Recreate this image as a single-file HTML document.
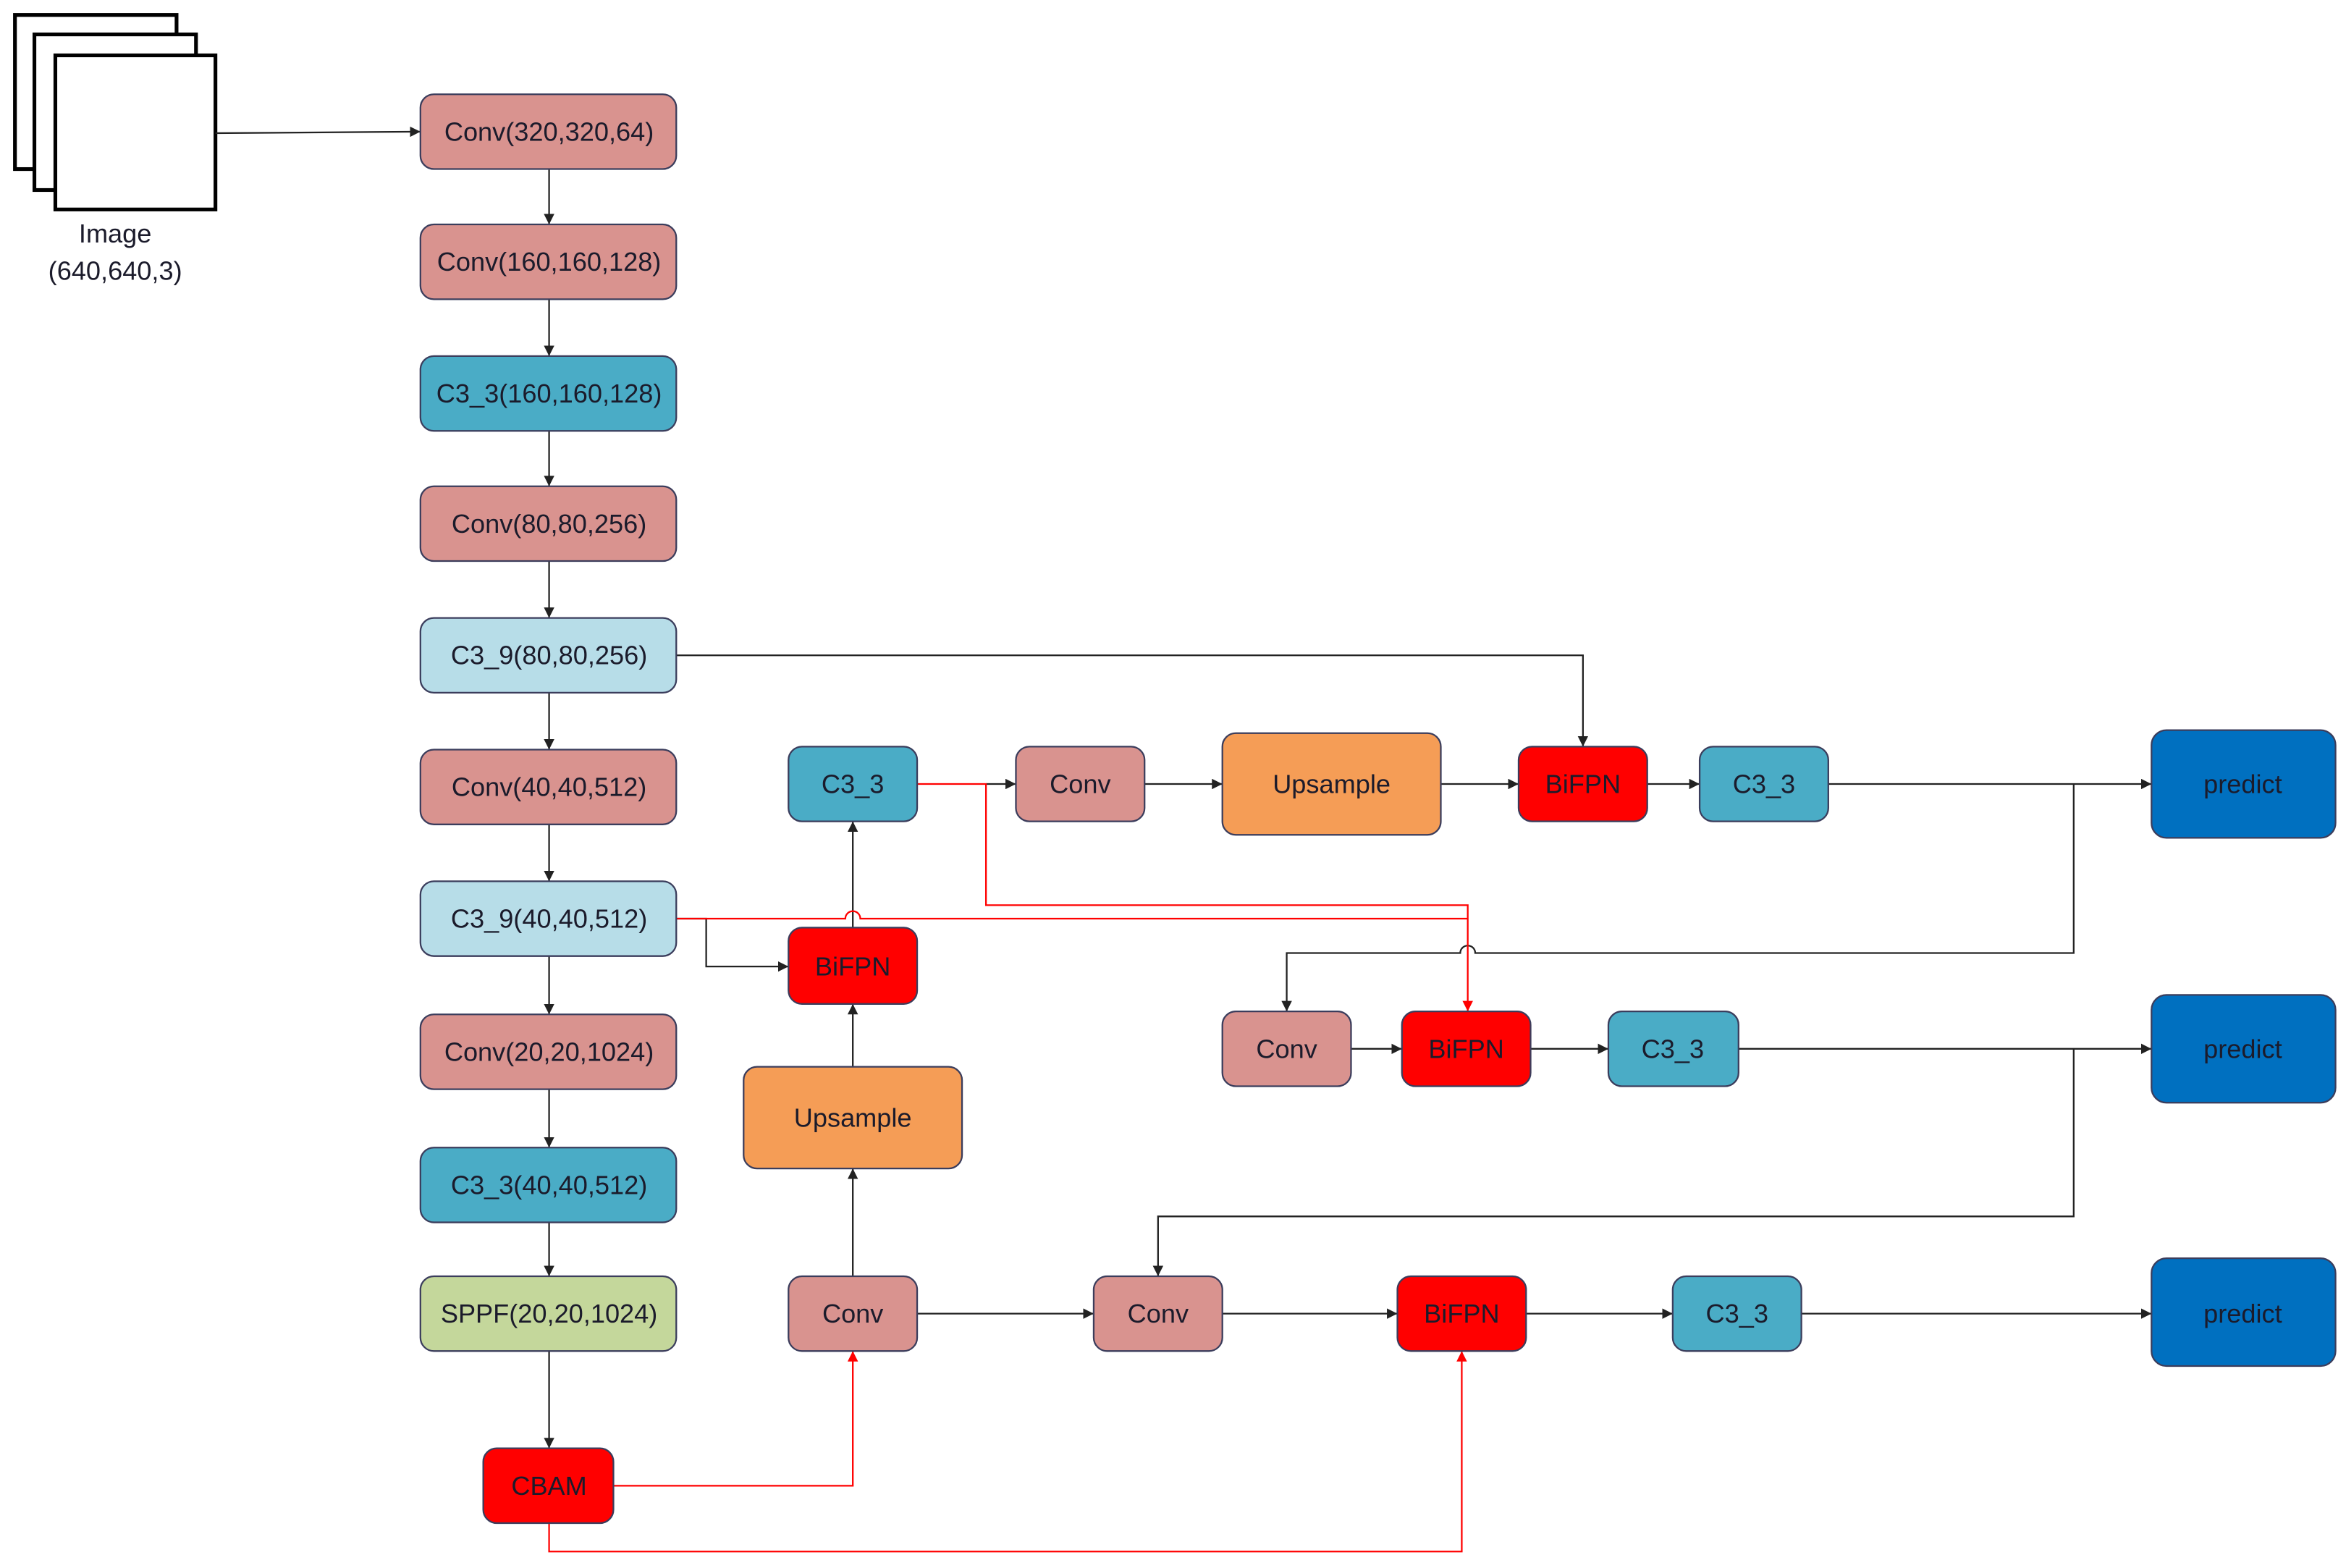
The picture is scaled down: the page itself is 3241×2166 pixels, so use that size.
<!DOCTYPE html>
<html><head><meta charset="utf-8"><style>
html,body{margin:0;padding:0;background:#fff;}
svg{display:block;}
text{font-family:"Liberation Sans","DejaVu Sans",sans-serif;font-size:17.5px;fill:#1b1b2b;text-anchor:middle;dominant-baseline:central;}
.b{stroke:#3b3d5c;stroke-width:1.1;}
.l{stroke:#222;stroke-width:1.1;fill:none;}
.r{stroke:#f00;stroke-width:1.1;fill:none;}
</style></head><body>
<svg width="3241" height="2166" viewBox="0 0 1568 1048" preserveAspectRatio="none" xmlns="http://www.w3.org/2000/svg">
<defs>
<marker id="a" viewBox="0 0 10 10" refX="10" refY="5" markerWidth="7" markerHeight="7" orient="auto" markerUnits="userSpaceOnUse"><path d="M0,0L10,5L0,10z" fill="#222"/></marker>
<marker id="ar" viewBox="0 0 10 10" refX="10" refY="5" markerWidth="7" markerHeight="7" orient="auto" markerUnits="userSpaceOnUse"><path d="M0,0L10,5L0,10z" fill="#f00"/></marker>
</defs>
<!-- image stack -->
<rect x="10" y="10" width="108" height="103" fill="#fff" stroke="#000" stroke-width="2.5"/>
<rect x="23" y="23" width="108" height="104" fill="#fff" stroke="#000" stroke-width="2.5"/>
<rect x="37" y="37" width="107" height="103" fill="#fff" stroke="#000" stroke-width="2.5"/>
<text x="77" y="156">Image</text>
<text x="77" y="181">(640,640,3)</text>

<!-- connectors black -->
<line class="l" x1="144" y1="89" x2="281" y2="88" marker-end="url(#a)"/>
<line class="l" x1="367" y1="113" x2="367" y2="150" marker-end="url(#a)"/>
<line class="l" x1="367" y1="200" x2="367" y2="238" marker-end="url(#a)"/>
<line class="l" x1="367" y1="288" x2="367" y2="325" marker-end="url(#a)"/>
<line class="l" x1="367" y1="375" x2="367" y2="413" marker-end="url(#a)"/>
<line class="l" x1="367" y1="463" x2="367" y2="501" marker-end="url(#a)"/>
<line class="l" x1="367" y1="551" x2="367" y2="589" marker-end="url(#a)"/>
<line class="l" x1="367" y1="639" x2="367" y2="678" marker-end="url(#a)"/>
<line class="l" x1="367" y1="728" x2="367" y2="767" marker-end="url(#a)"/>
<line class="l" x1="367" y1="817" x2="367" y2="853" marker-end="url(#a)"/>
<line class="l" x1="367" y1="903" x2="367" y2="968" marker-end="url(#a)"/>
<path class="l" d="M452,438H1058V499" marker-end="url(#a)"/>
<path class="l" d="M452,614H472V646H527" marker-end="url(#a)"/>
<line class="l" x1="570" y1="620" x2="570" y2="549" marker-end="url(#a)"/>
<line class="l" x1="570" y1="713" x2="570" y2="671" marker-end="url(#a)"/>
<line class="l" x1="570" y1="853" x2="570" y2="781" marker-end="url(#a)"/>
<line class="l" x1="659" y1="524" x2="679" y2="524" marker-end="url(#a)"/>
<line class="l" x1="765" y1="524" x2="817" y2="524" marker-end="url(#a)"/>
<line class="l" x1="963" y1="524" x2="1015" y2="524" marker-end="url(#a)"/>
<line class="l" x1="1101" y1="524" x2="1136" y2="524" marker-end="url(#a)"/>
<line class="l" x1="1222" y1="524" x2="1438" y2="524" marker-end="url(#a)"/>
<path class="l" d="M1386,524V637H986A5,5 0 0 0 976,637H860V676" marker-end="url(#a)"/>
<line class="l" x1="903" y1="701" x2="937" y2="701" marker-end="url(#a)"/>
<line class="l" x1="1023" y1="701" x2="1075" y2="701" marker-end="url(#a)"/>
<line class="l" x1="1162" y1="701" x2="1438" y2="701" marker-end="url(#a)"/>
<path class="l" d="M1386,701V813H774V853" marker-end="url(#a)"/>
<line class="l" x1="613" y1="878" x2="731" y2="878" marker-end="url(#a)"/>
<line class="l" x1="817" y1="878" x2="934" y2="878" marker-end="url(#a)"/>
<line class="l" x1="1020" y1="878" x2="1118" y2="878" marker-end="url(#a)"/>
<line class="l" x1="1204" y1="878" x2="1438" y2="878" marker-end="url(#a)"/>

<!-- red connectors -->
<path class="r" d="M613,524H659V605H981V676" marker-end="url(#ar)"/>
<path class="r" d="M452,614H565A5,5 0 0 1 575,614H981"/>
<path class="r" d="M410,993H570V903" marker-end="url(#ar)"/>
<path class="r" d="M367,1018V1037H977V903" marker-end="url(#ar)"/>

<!-- left column -->
<g class="b">
<rect x="281" y="63" width="171" height="50" rx="9" fill="#d9938f"/>
<rect x="281" y="150" width="171" height="50" rx="9" fill="#d9938f"/>
<rect x="281" y="238" width="171" height="50" rx="9" fill="#4aacc6"/>
<rect x="281" y="325" width="171" height="50" rx="9" fill="#d9938f"/>
<rect x="281" y="413" width="171" height="50" rx="9" fill="#b7dde8"/>
<rect x="281" y="501" width="171" height="50" rx="9" fill="#d9938f"/>
<rect x="281" y="589" width="171" height="50" rx="9" fill="#b7dde8"/>
<rect x="281" y="678" width="171" height="50" rx="9" fill="#d9938f"/>
<rect x="281" y="767" width="171" height="50" rx="9" fill="#4aacc6"/>
<rect x="281" y="853" width="171" height="50" rx="9" fill="#c4d79b"/>
<rect x="323" y="968" width="87" height="50" rx="9" fill="#ff0000"/>
<!-- col2 -->
<rect x="527" y="499" width="86" height="50" rx="9" fill="#4aacc6"/>
<rect x="527" y="620" width="86" height="51" rx="9" fill="#ff0000"/>
<rect x="497" y="713" width="146" height="68" rx="9" fill="#f59d56"/>
<rect x="527" y="853" width="86" height="50" rx="9" fill="#d9938f"/>
<!-- top row -->
<rect x="679" y="499" width="86" height="50" rx="9" fill="#d9938f"/>
<rect x="817" y="490" width="146" height="68" rx="9" fill="#f59d56"/>
<rect x="1015" y="499" width="86" height="50" rx="9" fill="#ff0000"/>
<rect x="1136" y="499" width="86" height="50" rx="9" fill="#4aacc6"/>
<rect x="1438" y="488" width="123" height="72" rx="10" fill="#0070c0"/>
<!-- middle -->
<rect x="817" y="676" width="86" height="50" rx="9" fill="#d9938f"/>
<rect x="937" y="676" width="86" height="50" rx="9" fill="#ff0000"/>
<rect x="1075" y="676" width="87" height="50" rx="9" fill="#4aacc6"/>
<rect x="1438" y="665" width="123" height="72" rx="10" fill="#0070c0"/>
<!-- bottom -->
<rect x="731" y="853" width="86" height="50" rx="9" fill="#d9938f"/>
<rect x="934" y="853" width="86" height="50" rx="9" fill="#ff0000"/>
<rect x="1118" y="853" width="86" height="50" rx="9" fill="#4aacc6"/>
<rect x="1438" y="841" width="123" height="72" rx="10" fill="#0070c0"/>
</g>

<text x="367" y="88">Conv(320,320,64)</text>
<text x="367" y="175">Conv(160,160,128)</text>
<text x="367" y="263">C3_3(160,160,128)</text>
<text x="367" y="350">Conv(80,80,256)</text>
<text x="367" y="438">C3_9(80,80,256)</text>
<text x="367" y="526">Conv(40,40,512)</text>
<text x="367" y="614">C3_9(40,40,512)</text>
<text x="367" y="703">Conv(20,20,1024)</text>
<text x="367" y="792">C3_3(40,40,512)</text>
<text x="367" y="878">SPPF(20,20,1024)</text>
<text x="367" y="993">CBAM</text>
<text x="570" y="524">C3_3</text>
<text x="570" y="646">BiFPN</text>
<text x="570" y="747">Upsample</text>
<text x="570" y="878">Conv</text>
<text x="722" y="524">Conv</text>
<text x="890" y="524">Upsample</text>
<text x="1058" y="524">BiFPN</text>
<text x="1179" y="524">C3_3</text>
<text x="1499" y="524">predict</text>
<text x="860" y="701">Conv</text>
<text x="980" y="701">BiFPN</text>
<text x="1118" y="701">C3_3</text>
<text x="1499" y="701">predict</text>
<text x="774" y="878">Conv</text>
<text x="977" y="878">BiFPN</text>
<text x="1161" y="878">C3_3</text>
<text x="1499" y="878">predict</text>
</svg>
</body></html>
